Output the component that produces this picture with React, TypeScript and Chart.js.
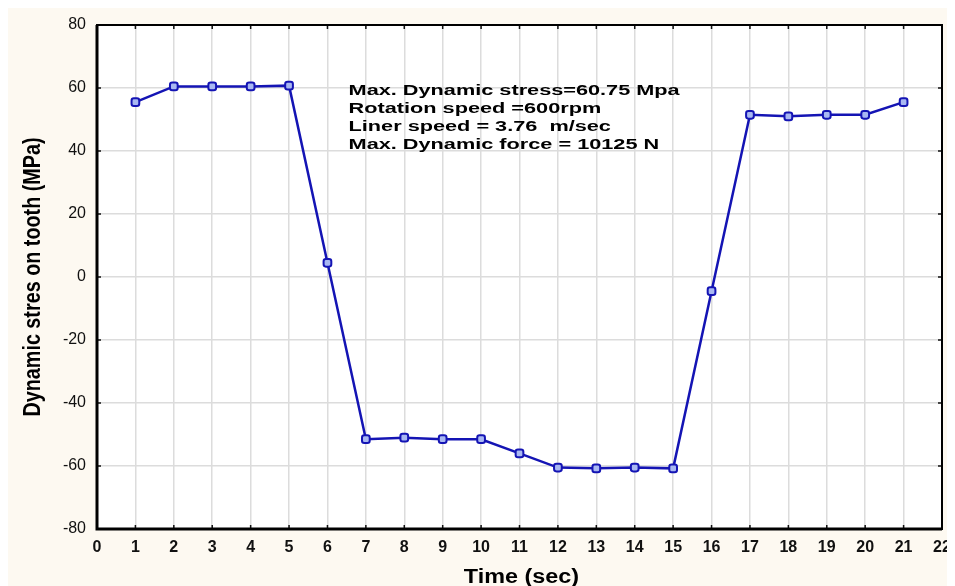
import React, { useEffect, useRef } from "react";
import { Chart, registerables } from "chart.js";

Chart.register(...registerables);

const timeSec = [1, 2, 3, 4, 5, 6, 7, 8, 9, 10, 11, 12, 13, 14, 15, 16, 17, 18, 19, 20, 21];
const stressMPa = [55.5, 60.5, 60.5, 60.5, 60.75, 4.5, -51.5, -51, -51.5, -51.5, -56, -60.5, -60.75, -60.5, -60.75, -4.5, 51.5, 51, 51.5, 51.5, 55.5];
const annotationLines = [
  "Max. Dynamic stress=60.75 Mpa",
  "Rotation speed =600rpm",
  "Liner speed = 3.76  m/sec",
  "Max. Dynamic force = 10125 N",
];
const xTitle = "Time (sec)";
const yTitle = "Dynamic stres on tooth (MPa)";

const FONT = "'Liberation Sans', Arial, sans-serif";

function drawStretched(ctx: any, text: string, x: number, y: number, sx: number, align: string) {
  ctx.save();
  ctx.translate(x, y);
  ctx.scale(sx, 1);
  ctx.textAlign = align;
  ctx.fillText(text, 0, 0);
  ctx.restore();
}

const framePlugin = {
  id: "frame",
  beforeDraw(chart: any) {
    const { ctx, chartArea: a } = chart;
    ctx.save();
    ctx.fillStyle = "#fdf9f1";
    ctx.fillRect(0, 0, chart.width, chart.height);
    ctx.fillStyle = "#ffffff";
    ctx.fillRect(a.left, a.top, a.right - a.left, a.bottom - a.top);
    ctx.restore();
  },
  afterDraw(chart: any) {
    const { ctx, chartArea: a, scales } = chart;
    ctx.save();
    ctx.strokeStyle = "#111";
    ctx.lineWidth = 1.5;
    scales.x.ticks.forEach((t: any) => {
      const px = scales.x.getPixelForValue(t.value);
      ctx.beginPath();
      ctx.moveTo(px, a.bottom);
      ctx.lineTo(px, a.bottom - 4);
      ctx.moveTo(px, a.top);
      ctx.lineTo(px, a.top + 4);
      ctx.stroke();
    });
    scales.y.ticks.forEach((t: any) => {
      const py = scales.y.getPixelForValue(t.value);
      ctx.beginPath();
      ctx.moveTo(a.left, py);
      ctx.lineTo(a.left + 4, py);
      ctx.moveTo(a.right, py);
      ctx.lineTo(a.right - 4, py);
      ctx.stroke();
    });
    ctx.strokeStyle = "#000";
    ctx.lineWidth = 2;
    ctx.strokeRect(a.left, a.top, a.right - a.left, a.bottom - a.top);
    ctx.lineWidth = 3;
    ctx.beginPath();
    ctx.moveTo(a.left, a.top);
    ctx.lineTo(a.left, a.bottom);
    ctx.lineTo(a.right, a.bottom);
    ctx.stroke();

    // annotation
    ctx.fillStyle = "#000";
    ctx.font = `bold 14px ${FONT}`;
    ctx.textBaseline = "middle";
    const x0 = scales.x.getPixelForValue(6.55);
    const y0 = scales.y.getPixelForValue(58.9);
    annotationLines.forEach((s, i) => drawStretched(ctx, s, x0, y0 + i * 18, 1.55, "left"));

    // x title
    ctx.font = `bold 20px ${FONT}`;
    ctx.textBaseline = "middle";
    drawStretched(ctx, xTitle, (a.left + a.right) / 2 + 2, chart.height - 9, 1.17, "center");

    // y title (rotated, condensed)
    ctx.save();
    ctx.translate(26, (a.top + a.bottom) / 2);
    ctx.rotate(-Math.PI / 2);
    ctx.font = `bold 23px ${FONT}`;
    ctx.textBaseline = "middle";
    ctx.scale(0.86, 1);
    ctx.textAlign = "center";
    ctx.fillText(yTitle, 0, 0);
    ctx.restore();

    ctx.restore();
  },
};

function zeroPad(s: any) {
  s.paddingTop = 0;
  s.paddingBottom = 0;
  s.paddingLeft = 0;
  s.paddingRight = 0;
}

export default function App() {
  const ref = useRef<HTMLCanvasElement>(null);
  useEffect(() => {
    document.body.style.background = "#ffffff";
    const chart = new Chart(ref.current!, {
      type: "line",
      data: {
        datasets: [
          {
            data: timeSec.map((t, i) => ({ x: t, y: stressMPa[i] })),
            borderColor: "#1414b4",
            borderWidth: 2.5,
            backgroundColor: "#a9b8f2",
            pointBorderColor: "#1414b4",
            pointBorderWidth: 2,
            pointStyle: "rectRounded",
            pointRadius: 4.5,
            tension: 0,
          },
        ],
      },
      options: {
        animation: false,
        responsive: false,
        layout: { padding: { left: 0, top: 17, right: 13, bottom: 0 } },
        plugins: { legend: { display: false }, tooltip: { enabled: false } },
        scales: {
          x: {
            type: "linear",
            min: 0,
            max: 22,
            ticks: {
              stepSize: 1,
              color: "#111",
              padding: 9,
              font: { family: FONT, size: 16, weight: "bold" },
            },
            grid: { color: "#dcdcdc", lineWidth: 1.5, drawTicks: false },
            border: { display: false },
            afterFit(s: any) {
              s.height = 57;
              zeroPad(s);
            },
          },
          y: {
            min: -80,
            max: 80,
            ticks: {
              stepSize: 20,
              color: "#111",
              padding: 11,
              font: { family: FONT, size: 16 },
            },
            grid: { color: "#dcdcdc", lineWidth: 1.5, drawTicks: false },
            border: { display: false },
            afterFit(s: any) {
              s.width = 89;
              zeroPad(s);
            },
          },
        },
      },
      plugins: [framePlugin],
    });
    return () => chart.destroy();
  }, []);
  return <canvas ref={ref} width={947} height={578} style={{ display: "block" }} />;
}
